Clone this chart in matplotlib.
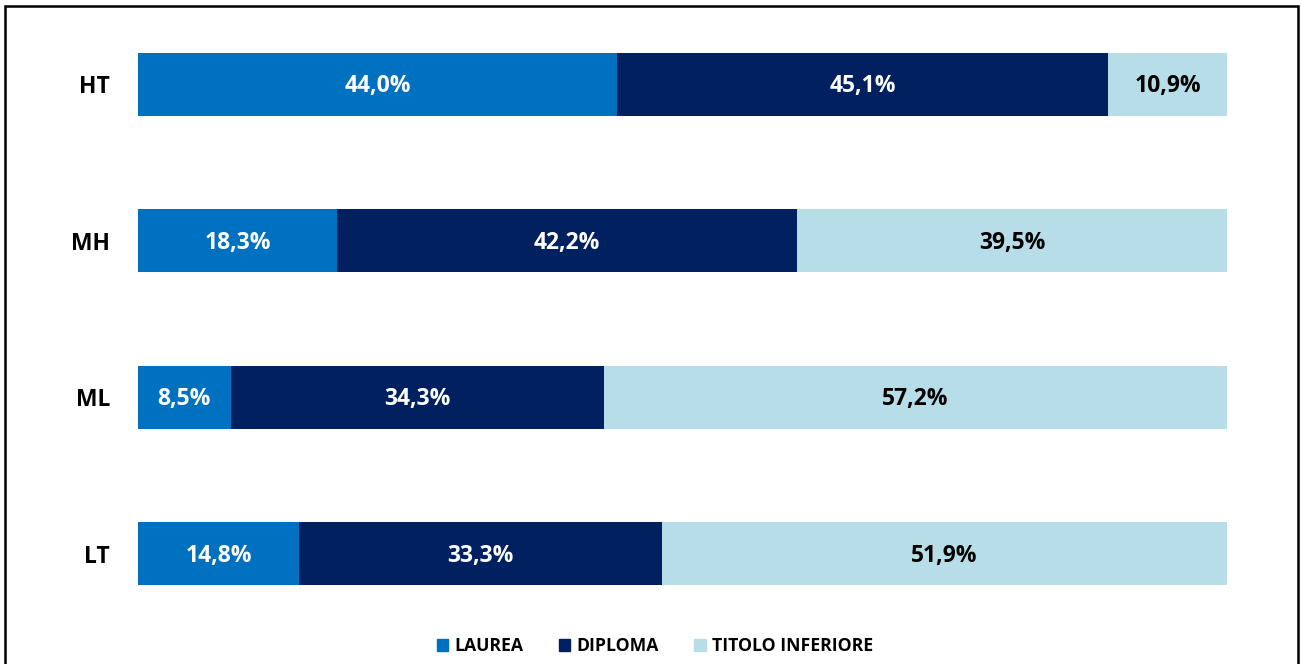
import matplotlib.pyplot as plt
from matplotlib.patches import Rectangle, Patch

categories = ["HT", "MH", "ML", "LT"]
series = ["LAUREA", "DIPLOMA", "TITOLO INFERIORE"]
laurea = [44.0, 18.3, 8.5, 14.8]
diploma = [45.1, 42.2, 34.3, 33.3]
inferiore = [10.9, 39.5, 57.2, 51.9]

colors = ["#0070C0", "#002060", "#B7DEE8"]
text_colors = ["white", "white", "black"]

plt.rcParams["font.family"] = ["Open Sans", "DejaVu Sans"]
plt.rcParams["font.weight"] = "bold"

fig = plt.figure(figsize=(13.01, 6.64), dpi=100)
W, H = 1301, 664
ax = fig.add_axes([138 / W, (664 - 632) / H, (1227 - 138) / W, 626 / H])

y = list(range(len(categories)))
left = [0] * len(categories)
for vals, c, tc in zip([laurea, diploma, inferiore], colors, text_colors):
    bars = ax.barh(y, vals, left=left, height=0.4, color=c)
    for b, v in zip(bars, vals):
        ax.text(b.get_x() + b.get_width() / 2, b.get_y() + b.get_height() / 2 + 0.012,
                f"{v:.1f}%".replace(".", ","), ha="center", va="center",
                color=tc, fontsize=16.5, fontweight="bold")
    left = [l + v for l, v in zip(left, vals)]

ax.set_xlim(0, 100)
ax.set_ylim(len(categories) - 0.5, -0.5)
ax.set_yticks(y)
ax.set_yticklabels(categories, fontsize=16.5, fontweight="bold")
ax.tick_params(axis="y", length=0, pad=20)
ax.set_xticks([])
for s in ax.spines.values():
    s.set_visible(False)

handles = [Patch(color=c) for c in colors]
fig.legend(handles, series, loc="center", bbox_to_anchor=(655 / W, 1 - 646 / H),
           ncol=3, frameon=False, handlelength=0.65, handleheight=0.65,
           handletextpad=0.35, columnspacing=2.0, prop={"weight": "bold", "size": 12.7})

fig.add_artist(Rectangle((5 / W, -0.02), (1298 - 5) / W, 1 - 6 / H + 0.02,
                         transform=fig.transFigure, fill=False, edgecolor="black",
                         linewidth=1.8))

fig.savefig("out.png", dpi=100)
